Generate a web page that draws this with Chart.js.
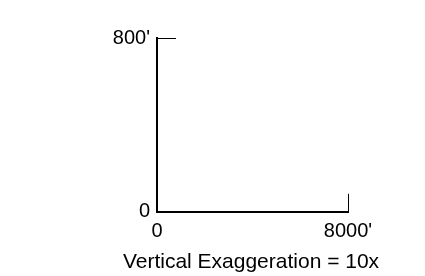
<!DOCTYPE html>
<html>
<head>
<meta charset="utf-8">
<script src="https://cdn.jsdelivr.net/npm/chart.js@4.4.1/dist/chart.umd.min.js"></script>
<style>
  html, body { margin: 0; padding: 0; background: #fff; }
  #wrap { width: 425px; height: 276px; }
</style>
</head>
<body>
<div id="wrap"><canvas id="profile-chart" width="425" height="276"></canvas></div>
<script>
// Axis data
const xTickValues = [0, 8000];
const xTickLabels = ['0', "8000'"];
const yTickValues = [0, 800];
const yTickLabels = ['0', "800'"];
const chartTitle = 'Vertical Exaggeration = 10x';

// Profile series (empty in the reference: only the frame is drawn)
const profileX = [];
const profileY = [];

const fontFamily = "Arial, 'Liberation Sans', sans-serif";
const tickFont = { family: fontFamily, size: 20 };
const titleFont = { family: fontFamily, size: 21, weight: 'normal' };

const canvas = document.getElementById('profile-chart');

new Chart(canvas, {
  type: 'scatter',
  data: {
    datasets: [{
      data: profileX.map((x, i) => ({ x: x, y: profileY[i] })),
      showLine: true,
      borderColor: '#000',
      pointRadius: 0
    }]
  },
  options: {
    responsive: false,
    animation: false,
    layout: { padding: { left: 77, top: 21, right: 0, bottom: 0 } },
    plugins: {
      legend: { display: false },
      tooltip: { enabled: false },
      title: {
        display: true,
        position: 'bottom',
        text: chartTitle,
        color: '#000',
        font: titleFont,
        padding: { top: 0, bottom: 1 }
      }
    },
    scales: {
      x: {
        type: 'linear',
        min: xTickValues[0],
        max: xTickValues[xTickValues.length - 1],
        afterBuildTicks: (scale) => {
          scale.ticks = xTickValues.map(v => ({ value: v }));
        },
        afterFit: (scale) => { scale.height = 38; },
        ticks: {
          color: '#000',
          font: tickFont,
          padding: 26,
          maxRotation: 0,
          autoSkip: false,
          callback: (value) => xTickLabels[xTickValues.indexOf(value)]
        },
        grid: {
          drawOnChartArea: false,
          drawTicks: true,
          tickLength: -18,
          tickColor: '#000',
          tickWidth: 1
        },
        border: { display: true, color: '#000', width: 2 }
      },
      y: {
        type: 'linear',
        min: yTickValues[0],
        max: yTickValues[yTickValues.length - 1],
        afterBuildTicks: (scale) => {
          scale.ticks = yTickValues.map(v => ({ value: v }));
        },
        afterFit: (scale) => { scale.width = 80; },
        ticks: {
          color: '#000',
          font: tickFont,
          padding: 26,
          autoSkip: false,
          callback: (value) => yTickLabels[yTickValues.indexOf(value)]
        },
        grid: {
          drawOnChartArea: false,
          drawTicks: true,
          tickLength: -19,
          tickColor: '#000',
          tickWidth: 1
        },
        border: { display: true, color: '#000', width: 2 }
      },
      // empty right-hand scale that only reserves the blank margin
      yRight: {
        type: 'linear',
        position: 'right',
        display: true,
        min: yTickValues[0],
        max: yTickValues[yTickValues.length - 1],
        afterFit: (scale) => { scale.width = 77; },
        ticks: { display: false },
        grid: { display: false },
        border: { display: false }
      }
    }
  }
});
</script>
</body>
</html>
